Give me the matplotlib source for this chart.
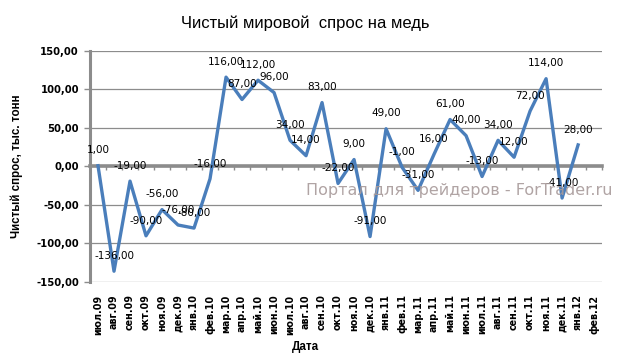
import matplotlib
matplotlib.use('Agg')
import matplotlib.pyplot as plt
import numpy as np

# ------------ DATA ----------------------------

months = ['июл.09', 'авг.09', 'сен.09', 'окт.09', 'ноя.09', 'дек.09',
          'янв.10', 'фев.10', 'мар.10', 'апр.10', 'май.10', 'июн.10',
          'июл.10', 'авг.10', 'сен.10', 'окт.10', 'ноя.10', 'дек.10',
          'янв.11', 'фев.11', 'мар.11', 'апр.11', 'май.11', 'июн.11',
          'июл.11', 'авг.11', 'сен.11', 'окт.11', 'ноя.11', 'дек.11',
          'янв.12', 'фев.12']
# net demand, thousand tonnes (no value for фев.12)
demand = [1, -136, -19, -90, -56, -76, -80, -16, 116, 87, 112, 96,
          34, 14, 83, -22, 9, -91, 49, -1, -31, 16, 61, 40,
          -13, 34, 12, 72, 114, -41, 28]
y_ticks = [-150, -100, -50, 0, 50, 100, 150]

LINE = '#4a7ebb'
GRID = '#8c8c8c'


def fmt(v):
    return '{:.2f}'.format(v).replace('.', ',')


# ------------ PLOT ----------------------------

fig = plt.figure(figsize=(6.22, 3.59), dpi=100)
ax = fig.add_axes([0.1447, 0.2145, 0.8233, 0.6435])

x = np.arange(len(demand))
ax.plot(x, demand, color=LINE, lw=2.4, solid_joinstyle='round', zorder=3)

for xi, v in zip(x, demand):
    ax.annotate(fmt(v), (xi, v), xytext=(0, 11), textcoords='offset points',
                ha='center', va='center', fontsize=7.5, family='DejaVu Sans',
                zorder=4)

ax.set_xlim(-0.5, len(months) - 0.5)
ax.set_ylim(-150, 150)
ax.set_yticks(y_ticks)
ax.set_yticklabels([fmt(t) for t in y_ticks], fontsize=7.2,
                   family='DejaVu Sans', fontweight='bold')
ax.set_xticks(np.arange(len(months)))
ax.set_xticklabels(months, rotation=90, fontsize=6.9,
                   family='DejaVu Sans', fontweight='bold')
ax.tick_params(axis='x', length=0, pad=9)
ax.tick_params(axis='y', length=4, width=1, color=GRID, pad=4)

ax.yaxis.grid(True, color=GRID, lw=0.9)
ax.set_axisbelow(True)
for s in ['top', 'right', 'bottom']:
    ax.spines[s].set_visible(False)
ax.spines['left'].set_color(GRID)
ax.spines['left'].set_linewidth(2.2)

# category axis sits on zero with tick marks between months
zero = ax.secondary_xaxis(0.5)
zero.set_xticks(np.arange(len(months) + 1) - 0.5)
zero.set_xticklabels([])
zero.tick_params(axis='x', direction='in', length=3, width=1, color=GRID)
for s in zero.spines.values():
    s.set_color(GRID)
    s.set_linewidth(2.6)
zero.set_zorder(2)

ax.set_ylabel('Чистый спрос, тыс. тонн', fontsize=8.4, fontweight='bold',
              family='Liberation Sans')
ax.yaxis.set_label_coords(-0.13, 0.5)
ax.set_xlabel('Дата', fontsize=8.4, fontweight='bold', family='Liberation Sans')
ax.xaxis.set_label_coords(0.42, -0.255)

fig.text(0.49, 0.935, 'Чистый мировой  спрос на медь', ha='center', va='center',
         fontsize=12, family='Liberation Sans')

fig.text(0.738, 0.468, 'Портал для трейдеров - ForTrader.ru', ha='center',
         va='center', fontsize=11.5, family='DejaVu Sans', color='#a89a9a',
         alpha=0.9, zorder=5)

fig.savefig('out.png', dpi=100)
